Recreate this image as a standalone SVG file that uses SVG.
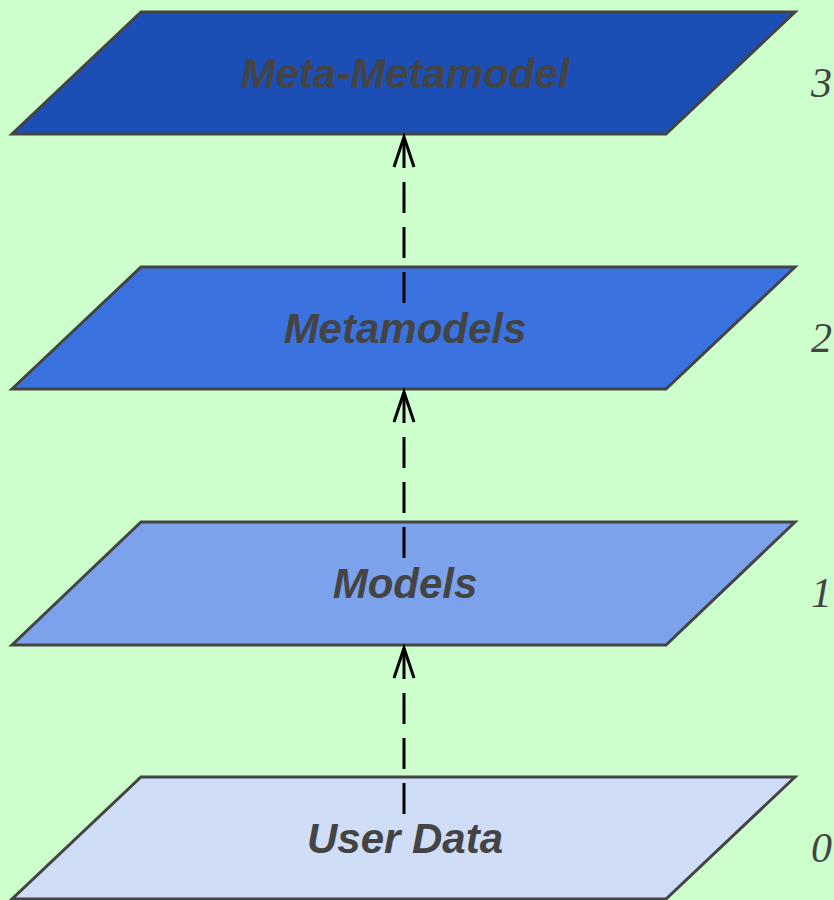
<svg xmlns="http://www.w3.org/2000/svg" width="834" height="900" viewBox="0 0 834 900">
<style>
.layer{stroke:#444;stroke-width:3;stroke-linejoin:miter}
.lbl{font-family:"Liberation Sans",Arial,sans-serif;font-weight:bold;font-style:italic;font-size:42px;fill:#444;text-anchor:middle}
.num{font-family:"Liberation Serif","Times New Roman",serif;font-style:italic;font-size:42px;fill:#444}
.shaft{fill:none;stroke:#000;stroke-width:3;stroke-dasharray:31 14}
.head{fill:none;stroke:#000;stroke-width:3;stroke-linejoin:miter}
</style>
<rect x="0" y="0" width="834" height="900" fill="#CCFFCC"/>
<g id="layer3">
<polygon class="layer" points="141,12 795,12 666,134 12,134" fill="#1B4FB5"/>
<text class="lbl" x="405" y="88">Meta-Metamodel</text>
<text class="num" x="811" y="97">3</text>
</g>
<g id="layer2">
<polygon class="layer" points="141,267 795,267 666,389 12,389" fill="#3A73E0"/>
<text class="lbl" x="405" y="343">Metamodels</text>
<text class="num" x="811" y="352">2</text>
</g>
<g id="layer1">
<polygon class="layer" points="141,522 795,522 666,645 12,645" fill="#7BA2EA"/>
<text class="lbl" x="405" y="598">Models</text>
<text class="num" x="811" y="607">1</text>
</g>
<g id="layer0">
<polygon class="layer" points="141,777 795,777 666,899 12,899" fill="#CFDDF7"/>
<text class="lbl" x="405" y="853">User Data</text>
<text class="num" x="811" y="862">0</text>
</g>
<g id="connectors">
<path class="shaft" d="M404,137 L404,303"/>
<path class="head" d="M394,167 L404,137 L414,167"/>
<path class="shaft" d="M404,392 L404,558"/>
<path class="head" d="M394,422 L404,392 L414,422"/>
<path class="shaft" d="M404,648 L404,816"/>
<path class="head" d="M394,678 L404,648 L414,678"/>
</g>
</svg>
